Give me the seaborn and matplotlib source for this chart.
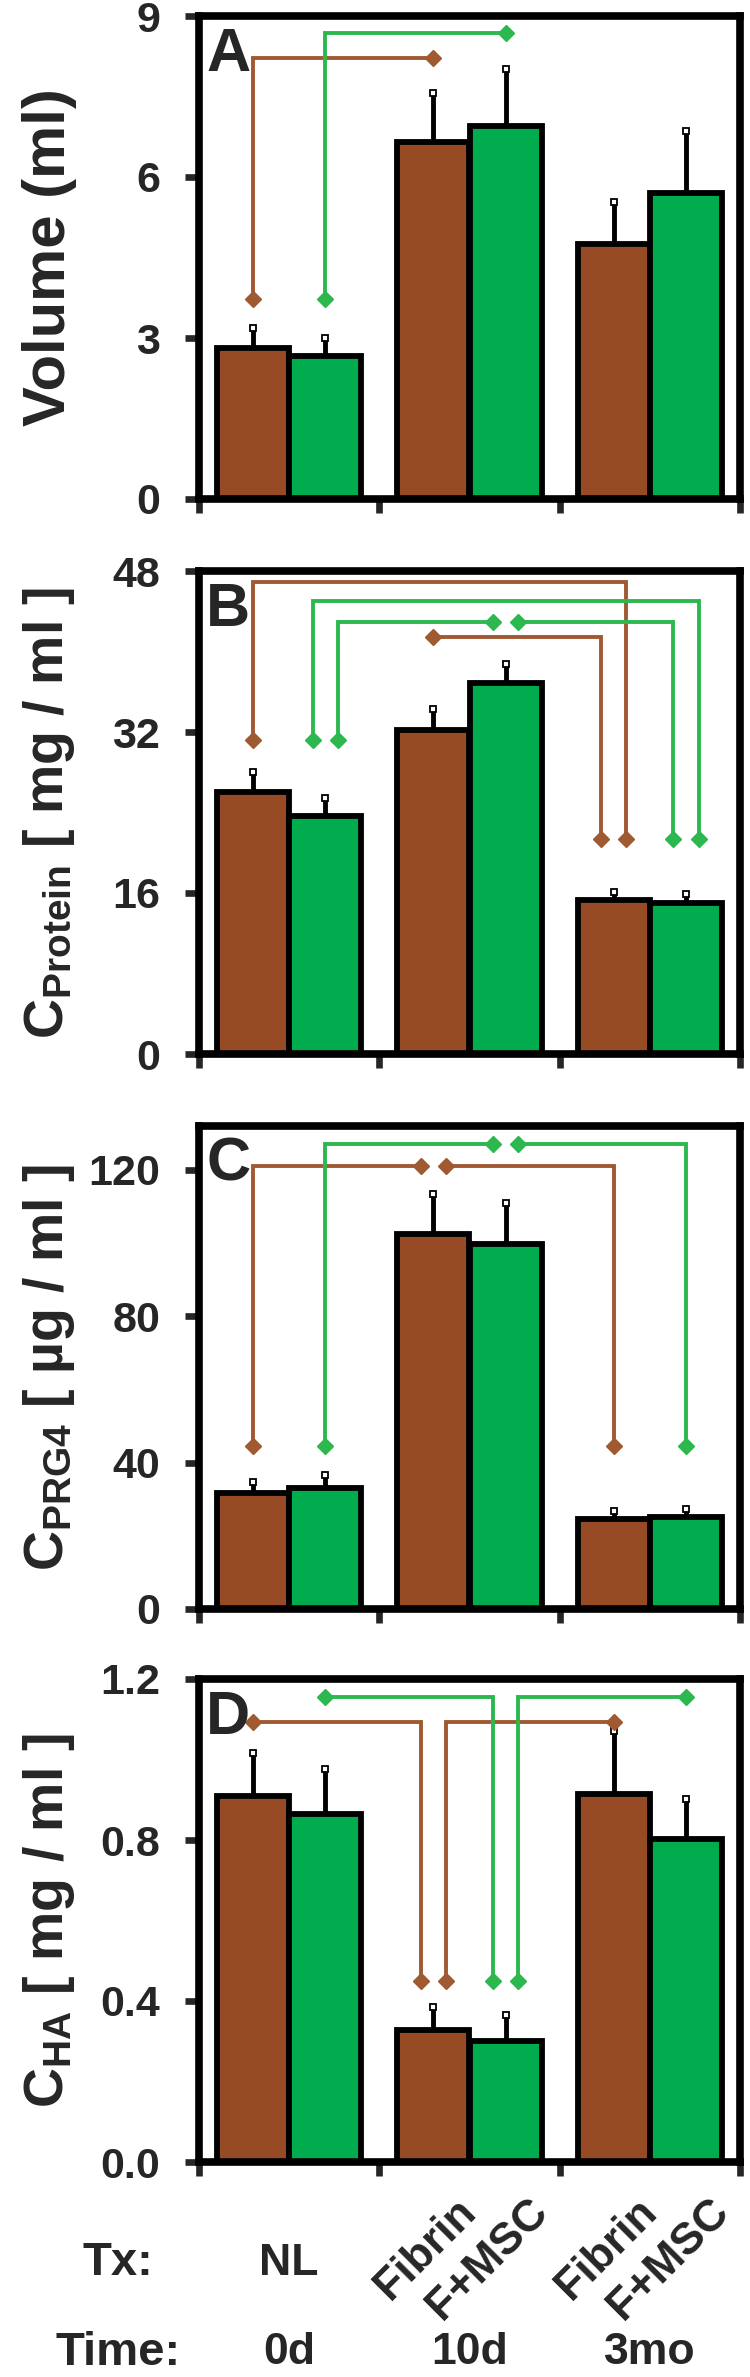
import numpy as np
import pandas as pd
import matplotlib
matplotlib.use("Agg")
import matplotlib.pyplot as plt
from matplotlib import font_manager
import seaborn as sns

# ---- data ----
times = ['0d', '10d', '3mo']
groups = ['Fibrin', 'F+MSC']

vol_fibrin = [2.81, 6.66, 4.76]
vol_fibrin_sd = [0.37, 0.90, 0.78]
vol_fmsc = [2.66, 6.95, 5.71]
vol_fmsc_sd = [0.34, 1.07, 1.15]

prot_fibrin = [26.0, 32.2, 15.3]
prot_fibrin_sd = [2.0, 2.1, 0.8]
prot_fmsc = [23.7, 36.9, 15.0]
prot_fmsc_sd = [1.7, 1.9, 0.9]

prg4_fibrin = [31.7, 102.4, 24.6]
prg4_fibrin_sd = [2.9, 11.0, 2.1]
prg4_fmsc = [33.0, 99.8, 25.2]
prg4_fmsc_sd = [3.5, 11.1, 2.1]

ha_fibrin = [0.909, 0.328, 0.914]
ha_fibrin_sd = [0.108, 0.057, 0.158]
ha_fmsc = [0.864, 0.301, 0.803]
ha_fmsc_sd = [0.112, 0.064, 0.098]

# significance brackets: (group, level, start, end)
# start/end = (time index, side, arrow value or None when the diamond sits on the level line)
sig_A = [(0, 8.21, (0, 0, 3.73), (1, 0, None)),
         (1, 8.68, (0, 0, 3.73), (1, 0, None))]
sig_B = [(0, 46.9, (0, 0, 31.2), (2, 1, 21.4)),
         (0, 41.4, (1, 0, None), (2, -1, 21.4)),
         (1, 45.0, (0, -1, 31.2), (2, 1, 21.4)),
         (1, 42.9, (0, 1, 31.2), (1, -1, None)),
         (1, 42.9, (1, 1, None), (2, -1, 21.4))]
sig_C = [(0, 121, (0, 0, 44.5), (1, -1, None)),
         (0, 121, (1, 1, None), (2, 0, 44.5)),
         (1, 127, (0, 0, 44.5), (1, -1, None)),
         (1, 127, (1, 1, None), (2, 0, 44.5))]
sig_D = [(0, 1.094, (0, 0, None), (1, -1, 0.449)),
         (0, 1.094, (1, 1, 0.449), (2, 0, None)),
         (1, 1.156, (0, 0, None), (1, -1, 0.449)),
         (1, 1.156, (1, 1, 0.449), (2, 0, None))]

tx_labels = ['NL', 'Fibrin', 'F+MSC', 'Fibrin', 'F+MSC']

bar_colors = ['#964B24', '#00AC4E']
line_colors = ['#A05A32', '#2DB84F']

names = {f.name for f in font_manager.fontManager.ttflist}
narrow = 'Liberation Sans Narrow' if 'Liberation Sans Narrow' in names else 'Liberation Sans'

sns.set_style('white')
plt.rcParams['font.family'] = ['Liberation Sans', 'DejaVu Sans']
plt.rcParams['mathtext.fontset'] = 'custom'
plt.rcParams['mathtext.rm'] = 'Liberation Sans:bold'
plt.rcParams['mathtext.it'] = 'Liberation Sans:bold'
plt.rcParams['mathtext.bf'] = 'Liberation Sans:bold'

fig = plt.figure(figsize=(7.5, 23.77), dpi=100)
W, H = 750, 2377
left, right = 199, 740
panel_h = 483
panels = [
    ('A', 16, vol_fibrin, vol_fibrin_sd, vol_fmsc, vol_fmsc_sd, (0, 9), [0, 3, 6, 9],
     ['0', '3', '6', '9'], 'Volume (ml)', 43, sig_A),
    ('B', 571, prot_fibrin, prot_fibrin_sd, prot_fmsc, prot_fmsc_sd, (0, 48), [0, 16, 32, 48],
     ['0', '16', '32', '48'], r'C$_{\mathrm{Protein}}$ [ mg / ml ]', 40, sig_B),
    ('C', 1126, prg4_fibrin, prg4_fibrin_sd, prg4_fmsc, prg4_fmsc_sd, (0, 132), [0, 40, 80, 120],
     ['0', '40', '80', '120'], r'C$_{\mathrm{PRG4}}$ [ µg / ml ]', 40, sig_C),
    ('D', 1679, ha_fibrin, ha_fibrin_sd, ha_fmsc, ha_fmsc_sd, (0, 1.2), [0, 0.4, 0.8, 1.2],
     ['0.0', '0.4', '0.8', '1.2'], r'C$_{\mathrm{HA}}$ [ mg / ml ]', 40, sig_D),
]

d = 0.07
for letter, top, fib, fib_sd, msc, msc_sd, ylim, yt, ytl, ylab, ylab_size, sigs in panels:
    bot = top + panel_h
    ax = fig.add_axes([left / W, 1 - bot / H, (right - left) / W, panel_h / H])
    df = pd.DataFrame({'time': times * 2, 'group': [groups[0]] * 3 + [groups[1]] * 3,
                       'value': fib + msc})
    sns.barplot(data=df, x='time', y='value', hue='group', order=times, hue_order=groups,
                palette=bar_colors, width=0.8, edgecolor='black', linewidth=4.2,
                errorbar=None, legend=False, ax=ax, saturation=1)
    centers = []
    for g, (m, s) in enumerate([(fib, fib_sd), (msc, msc_sd)]):
        xs = [p.get_x() + p.get_width() / 2 for p in ax.containers[g]]
        centers.append(xs)
        tops = np.array(m) + np.array(s)
        ax.vlines(xs, m, tops, color='black', lw=3.5, zorder=3)
        ax.plot(xs, tops, 's', mfc='white', mec='black', ms=5, mew=1.3, zorder=4)

    for g, level, start, end in sigs:
        c = line_colors[g]
        pts = []
        for t, side, arrow in (start, end):
            x = centers[g][t] + side * d
            pts.append((x, arrow))
        xa, ya = pts[0]
        xb, yb = pts[1]
        path_x = ([xa] if ya is not None else []) + [xa, xb] + ([xb] if yb is not None else [])
        path_y = ([ya] if ya is not None else []) + [level, level] + ([yb] if yb is not None else [])
        ax.plot(path_x, path_y, color=c, lw=2.8, solid_joinstyle='miter', zorder=5)
        for x, y in pts:
            ax.plot(x, level if y is None else y, 'D', color=c, ms=8.5, zorder=6)

    ax.set_xlim(-0.5, 2.5)
    ax.set_ylim(*ylim)
    ax.set_xticks([-0.5, 0.5, 1.5, 2.5])
    ax.set_xticklabels([])
    ax.set_yticks(yt)
    ax.set_yticklabels(ytl, fontfamily=narrow, fontweight='bold', fontsize=31)
    ax.tick_params(axis='both', direction='out', length=10, width=4.8, pad=18,
                   left=True, bottom=True)
    for sp in ax.spines.values():
        sp.set_linewidth(5.5)
        sp.set_color('black')
    ax.set_xlabel('')
    ax.set_ylabel(ylab, fontsize=ylab_size, fontweight='bold')
    ax.yaxis.set_label_coords(-0.225, 0.5)
    ax.text(0.013, 0.978, letter, transform=ax.transAxes, ha='left', va='top',
            fontsize=44, fontweight='bold', zorder=7)

    if letter == 'D':
        xtr = ax.get_xaxis_transform()
        ax.text(0, -0.21, tx_labels[0], transform=xtr, ha='center', va='center',
                fontfamily=narrow, fontweight='bold', fontsize=32)
        rot_x = [centers[0][1], centers[1][1], centers[0][2], centers[1][2]]
        for x, lab in zip(rot_x, tx_labels[1:]):
            t = ax.text(x + 0.12, -0.06, lab, transform=xtr, ha='right', va='top',
                        fontfamily=narrow, fontweight='bold', fontsize=32)
            t.set_rotation(45)
            t.set_rotation_mode('anchor')
        ax.text(-0.15, -0.21, 'Tx:', transform=ax.transAxes, ha='center', va='center',
                fontfamily=narrow, fontweight='bold', fontsize=34)
        ax.text(-0.15, -0.395, 'Time:', transform=ax.transAxes, ha='center', va='center',
                fontfamily=narrow, fontweight='bold', fontsize=34)
        for i, tm in enumerate(times):
            ax.text(i, -0.395, tm, transform=xtr, ha='center', va='center',
                    fontfamily=narrow, fontweight='bold', fontsize=32)

fig.savefig('out.png', dpi=100, facecolor='white')
